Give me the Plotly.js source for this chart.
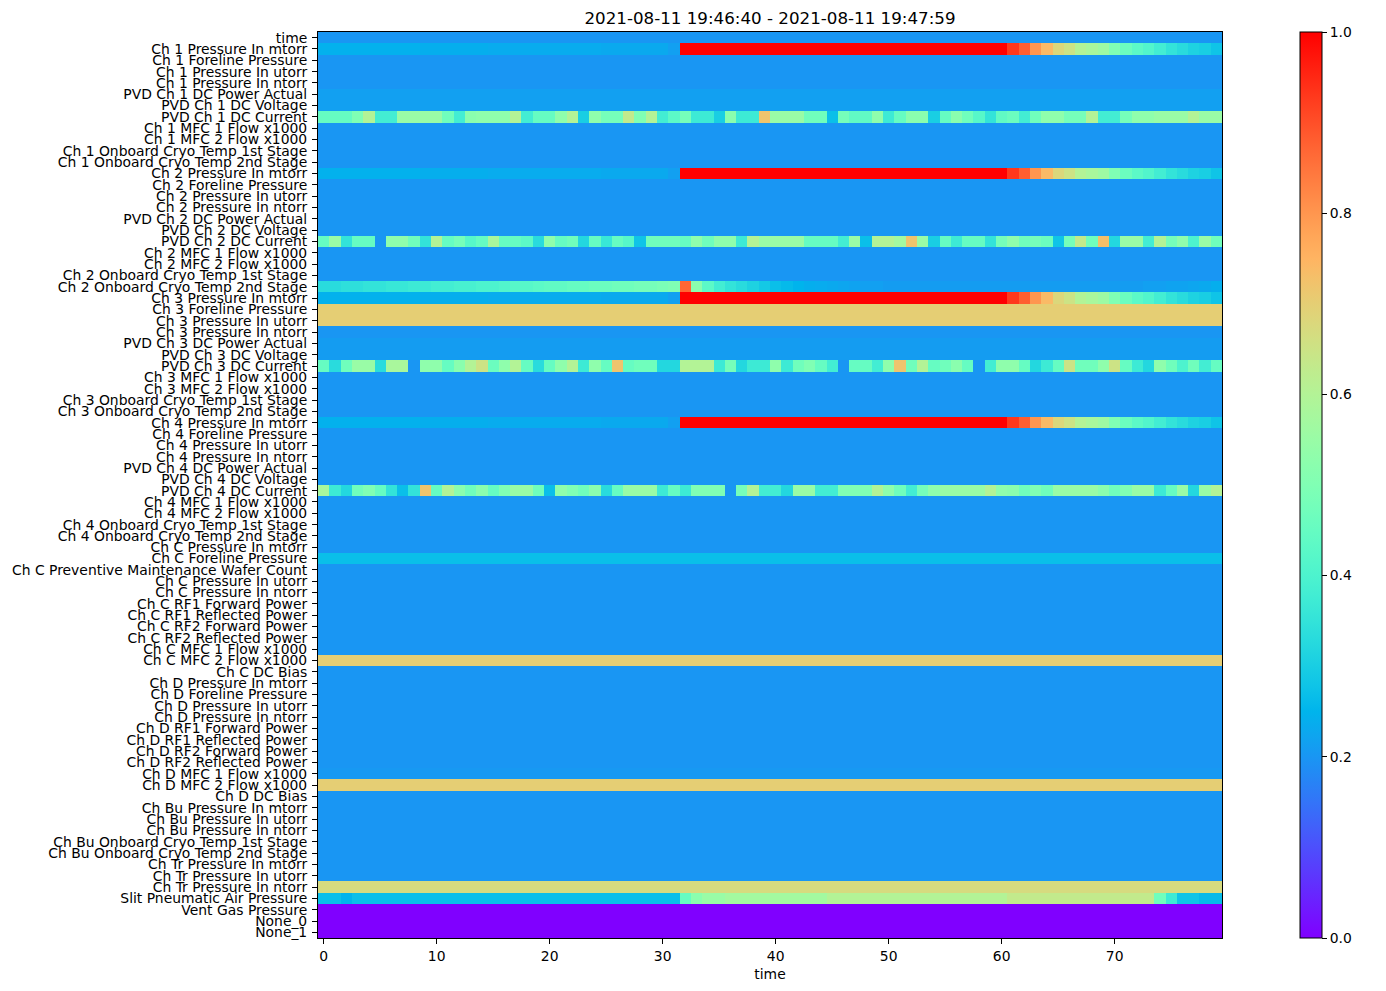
<!DOCTYPE html>
<html><head><meta charset="utf-8">
<script src="https://cdn.plot.ly/plotly-3.0.1.min.js"></script>
<style>html,body{margin:0;padding:0;background:#fff}#chart{width:1386px;height:991px}</style>
</head><body><div id="chart"></div>
<script>
const rowLabels = ["time","Ch 1 Pressure In mtorr","Ch 1 Foreline Pressure","Ch 1 Pressure In utorr","Ch 1 Pressure In ntorr","PVD Ch 1 DC Power Actual","PVD Ch 1 DC Voltage","PVD Ch 1 DC Current","Ch 1 MFC 1 Flow x1000","Ch 1 MFC 2 Flow x1000","Ch 1 Onboard Cryo Temp 1st Stage","Ch 1 Onboard Cryo Temp 2nd Stage","Ch 2 Pressure In mtorr","Ch 2 Foreline Pressure","Ch 2 Pressure In utorr","Ch 2 Pressure In ntorr","PVD Ch 2 DC Power Actual","PVD Ch 2 DC Voltage","PVD Ch 2 DC Current","Ch 2 MFC 1 Flow x1000","Ch 2 MFC 2 Flow x1000","Ch 2 Onboard Cryo Temp 1st Stage","Ch 2 Onboard Cryo Temp 2nd Stage","Ch 3 Pressure In mtorr","Ch 3 Foreline Pressure","Ch 3 Pressure In utorr","Ch 3 Pressure In ntorr","PVD Ch 3 DC Power Actual","PVD Ch 3 DC Voltage","PVD Ch 3 DC Current","Ch 3 MFC 1 Flow x1000","Ch 3 MFC 2 Flow x1000","Ch 3 Onboard Cryo Temp 1st Stage","Ch 3 Onboard Cryo Temp 2nd Stage","Ch 4 Pressure In mtorr","Ch 4 Foreline Pressure","Ch 4 Pressure In utorr","Ch 4 Pressure In ntorr","PVD Ch 4 DC Power Actual","PVD Ch 4 DC Voltage","PVD Ch 4 DC Current","Ch 4 MFC 1 Flow x1000","Ch 4 MFC 2 Flow x1000","Ch 4 Onboard Cryo Temp 1st Stage","Ch 4 Onboard Cryo Temp 2nd Stage","Ch C Pressure In mtorr","Ch C Foreline Pressure","Ch C Preventive Maintenance Wafer Count","Ch C Pressure In utorr","Ch C Pressure In ntorr","Ch C RF1 Forward Power","Ch C RF1 Reflected Power","Ch C RF2 Forward Power","Ch C RF2 Reflected Power","Ch C MFC 1 Flow x1000","Ch C MFC 2 Flow x1000","Ch C DC Bias","Ch D Pressure In mtorr","Ch D Foreline Pressure","Ch D Pressure In utorr","Ch D Pressure In ntorr","Ch D RF1 Forward Power","Ch D RF1 Reflected Power","Ch D RF2 Forward Power","Ch D RF2 Reflected Power","Ch D MFC 1 Flow x1000","Ch D MFC 2 Flow x1000","Ch D DC Bias","Ch Bu Pressure In mtorr","Ch Bu Pressure In utorr","Ch Bu Pressure In ntorr","Ch Bu Onboard Cryo Temp 1st Stage","Ch Bu Onboard Cryo Temp 2nd Stage","Ch Tr Pressure In mtorr","Ch Tr Pressure In utorr","Ch Tr Pressure In ntorr","Slit Pneumatic Air Pressure","Vent Gas Pressure","None_0","None_1"];

const timeIndex = [0,1,2,3,4,5,6,7,8,9,10,11,12,13,14,15,16,17,18,19,20,21,22,23,24,25,26,27,28,29,30,31,32,33,34,35,36,37,38,39,40,41,42,43,44,45,46,47,48,49,50,51,52,53,54,55,56,57,58,59,60,61,62,63,64,65,66,67,68,69,70,71,72,73,74,75,76,77,78,79];

const xTickValues = [0,10,20,30,40,50,60,70];
const colorbarTicks = [0,0.2,0.4,0.6,0.8,1.0];
const colorbarTickText = ["0.0","0.2","0.4","0.6","0.8","1.0"];

// constant level of each row (used where no per-time series is listed)
const rowLevel = [0.2,0.2,0.2,0.2,0.2,0.215,0.215,0.2,0.2,0.2,0.2,0.2,0.2,0.2,0.2,0.2,0.2,0.2,0.2,0.2,0.2,0.2,0.2,0.2,0.7,0.7,0.2,0.21,0.21,0.2,0.2,0.2,0.2,0.2,0.2,0.2,0.2,0.2,0.2,0.2,0.2,0.2,0.2,0.2,0.2,0.2,0.27,0.2,0.2,0.2,0.2,0.2,0.2,0.2,0.2,0.7,0.2,0.2,0.2,0.2,0.2,0.2,0.2,0.2,0.2,0.205,0.7,0.2,0.2,0.2,0.2,0.2,0.2,0.2,0.2,0.67,0.2,0,0,0];

const ch1PressureMtorr = [0.245,0.245,0.245,0.245,0.245,0.245,0.245,0.245,0.245,0.24,0.24,0.24,0.24,0.24,0.24,0.235,0.235,0.235,0.235,0.235,0.235,0.235,0.235,0.235,0.235,0.23,0.23,0.23,0.23,0.23,0.23,0.215,1,1,1,1,1,1,1,1,1,1,1,1,1,1,1,1,1,1,1,1,1,1,1,1,1,1,1,1,1,0.93,0.88,0.8,0.74,0.68,0.65,0.6,0.58,0.56,0.5,0.46,0.43,0.41,0.38,0.35,0.33,0.31,0.3,0.28];
const ch2PressureMtorr = [0.245,0.245,0.245,0.245,0.245,0.245,0.245,0.245,0.245,0.24,0.24,0.24,0.24,0.24,0.24,0.235,0.235,0.235,0.235,0.235,0.235,0.235,0.235,0.235,0.235,0.23,0.23,0.23,0.23,0.23,0.23,0.215,1,1,1,1,1,1,1,1,1,1,1,1,1,1,1,1,1,1,1,1,1,1,1,1,1,1,1,1,1,0.93,0.88,0.8,0.74,0.68,0.65,0.6,0.58,0.56,0.5,0.46,0.43,0.41,0.38,0.35,0.33,0.31,0.3,0.28];
const ch3PressureMtorr = [0.245,0.245,0.245,0.245,0.245,0.245,0.245,0.245,0.245,0.24,0.24,0.24,0.24,0.24,0.24,0.235,0.235,0.235,0.235,0.235,0.235,0.235,0.235,0.235,0.235,0.23,0.23,0.23,0.23,0.23,0.23,0.215,1,1,1,1,1,1,1,1,1,1,1,1,1,1,1,1,1,1,1,1,1,1,1,1,1,1,1,1,1,0.93,0.88,0.8,0.74,0.68,0.65,0.6,0.58,0.56,0.5,0.46,0.43,0.41,0.38,0.35,0.33,0.31,0.3,0.28];
const ch4PressureMtorr = [0.245,0.245,0.245,0.245,0.245,0.245,0.245,0.245,0.245,0.24,0.24,0.24,0.24,0.24,0.24,0.235,0.235,0.235,0.235,0.235,0.235,0.235,0.235,0.235,0.235,0.23,0.23,0.23,0.23,0.23,0.23,0.215,1,1,1,1,1,1,1,1,1,1,1,1,1,1,1,1,1,1,1,1,1,1,1,1,1,1,1,1,1,0.93,0.88,0.8,0.74,0.68,0.65,0.6,0.58,0.56,0.5,0.46,0.43,0.41,0.38,0.35,0.33,0.31,0.3,0.28];

const pvdCh1Current = [0.45,0.45,0.45,0.5,0.6,0.38,0.38,0.55,0.55,0.55,0.55,0.47,0.38,0.52,0.53,0.53,0.53,0.6,0.38,0.45,0.45,0.53,0.6,0.3,0.53,0.48,0.48,0.63,0.5,0.6,0.38,0.43,0.48,0.37,0.37,0.3,0.52,0.37,0.37,0.72,0.55,0.55,0.55,0.47,0.47,0.27,0.48,0.44,0.44,0.53,0.37,0.45,0.52,0.52,0.3,0.45,0.52,0.47,0.42,0.35,0.44,0.46,0.38,0.47,0.53,0.53,0.48,0.48,0.6,0.38,0.38,0.48,0.53,0.53,0.55,0.55,0.55,0.6,0.55,0.55];
const pvdCh2Current = [0.45,0.55,0.35,0.45,0.45,0.2,0.53,0.53,0.47,0.35,0.6,0.45,0.48,0.42,0.45,0.58,0.45,0.45,0.43,0.33,0.53,0.45,0.47,0.32,0.45,0.36,0.45,0.42,0.28,0.47,0.47,0.47,0.45,0.53,0.47,0.53,0.53,0.37,0.6,0.55,0.55,0.55,0.55,0.45,0.45,0.45,0.38,0.55,0.27,0.6,0.6,0.57,0.72,0.55,0.3,0.45,0.37,0.45,0.45,0.35,0.48,0.53,0.47,0.48,0.46,0.28,0.48,0.63,0.47,0.73,0.32,0.55,0.55,0.38,0.6,0.48,0.53,0.4,0.55,0.47];
const pvdCh3Current = [0.45,0.33,0.47,0.55,0.55,0.33,0.58,0.58,0.2,0.53,0.53,0.45,0.52,0.6,0.65,0.46,0.53,0.6,0.45,0.33,0.45,0.53,0.6,0.37,0.53,0.45,0.72,0.45,0.47,0.47,0.32,0.32,0.6,0.6,0.6,0.37,0.48,0.32,0.37,0.37,0.53,0.37,0.47,0.5,0.45,0.38,0.2,0.45,0.45,0.38,0.53,0.72,0.47,0.6,0.45,0.47,0.52,0.45,0.2,0.38,0.53,0.53,0.45,0.32,0.37,0.45,0.65,0.47,0.47,0.53,0.65,0.45,0.37,0.32,0.53,0.47,0.4,0.47,0.38,0.45];
const pvdCh4Current = [0.58,0.37,0.32,0.47,0.5,0.45,0.35,0.27,0.35,0.72,0.45,0.6,0.52,0.47,0.52,0.45,0.5,0.55,0.55,0.47,0.27,0.53,0.5,0.47,0.52,0.33,0.45,0.55,0.55,0.55,0.37,0.45,0.37,0.5,0.5,0.5,0.2,0.48,0.6,0.38,0.38,0.32,0.55,0.55,0.38,0.38,0.5,0.5,0.5,0.6,0.53,0.47,0.38,0.48,0.53,0.55,0.55,0.55,0.55,0.6,0.53,0.52,0.47,0.5,0.47,0.55,0.55,0.55,0.55,0.52,0.47,0.5,0.55,0.55,0.37,0.45,0.55,0.32,0.55,0.6];

const ch2CryoTemp2nd = [0.33,0.33,0.34,0.34,0.35,0.35,0.36,0.36,0.37,0.37,0.38,0.38,0.39,0.39,0.4,0.4,0.41,0.42,0.42,0.43,0.44,0.44,0.45,0.45,0.46,0.46,0.47,0.47,0.48,0.48,0.49,0.5,0.87,0.52,0.43,0.38,0.35,0.33,0.31,0.29,0.27,0.26,0.25,0.24,0.235,0.23,0.225,0.22,0.215,0.215,0.21,0.21,0.21,0.21,0.21,0.21,0.21,0.21,0.21,0.21,0.21,0.21,0.21,0.21,0.21,0.21,0.21,0.21,0.21,0.21,0.21,0.21,0.21,0.215,0.215,0.22,0.22,0.225,0.23,0.24];

const slitAirPressure = [0.27,0.27,0.25,0.27,0.27,0.27,0.27,0.27,0.27,0.27,0.27,0.27,0.27,0.27,0.27,0.27,0.27,0.27,0.27,0.27,0.27,0.27,0.27,0.27,0.27,0.27,0.27,0.27,0.27,0.27,0.27,0.27,0.45,0.52,0.55,0.55,0.57,0.57,0.57,0.57,0.57,0.57,0.57,0.57,0.57,0.6,0.6,0.6,0.6,0.6,0.6,0.6,0.6,0.6,0.6,0.6,0.6,0.6,0.6,0.6,0.6,0.63,0.63,0.63,0.63,0.63,0.63,0.63,0.63,0.63,0.63,0.63,0.63,0.63,0.47,0.37,0.28,0.28,0.26,0.26];

const seriesByRow = {
  1: ch1PressureMtorr, 7: pvdCh1Current, 12: ch2PressureMtorr, 18: pvdCh2Current,
  22: ch2CryoTemp2nd, 23: ch3PressureMtorr, 29: pvdCh3Current, 34: ch4PressureMtorr,
  40: pvdCh4Current, 76: slitAirPressure
};

const z = rowLabels.map((lab, i) => seriesByRow[i] ? seriesByRow[i] : timeIndex.map(() => rowLevel[i]));
const rowIndex = rowLabels.map((lab, i) => i);

// matplotlib "rainbow" colormap
const cs = [];
for (let k = 0; k <= 40; k++) {
  const t = k / 40;
  const r = Math.min(1, Math.abs(2 * t - 0.5));
  const g = Math.sin(Math.PI * t);
  const b = Math.cos(Math.PI * t / 2);
  cs.push([t, `rgb(${Math.round(r*255)},${Math.round(Math.max(0,g)*255)},${Math.round(Math.max(0,b)*255)})`]);
}

const FONT = "DejaVu Sans, Liberation Sans, sans-serif";
const trace = {
  type: 'heatmap', x: timeIndex, y: rowIndex, z: z,
  colorscale: cs, zmin: 0, zmax: 1, zsmooth: false, hoverongaps: false,
  colorbar: {
    x: 1.0863, xanchor: 'left', xref: 'paper', y: 0.5, yanchor: 'middle',
    len: 1, lenmode: 'fraction', thickness: 22, thicknessmode: 'pixels',
    xpad: 0, ypad: 0, outlinewidth: 1, outlinecolor: '#000',
    ticks: 'outside', ticklen: 5, tickwidth: 1, tickcolor: '#000',
    tickvals: colorbarTicks, ticktext: colorbarTickText,
    tickfont: {family: FONT, size: 13.9, color: '#000'}
  }
};

const layout = {
  width: 1386, height: 991,
  margin: {l: 318, r: 164, t: 32, b: 53, pad: 0},
  paper_bgcolor: '#fff', plot_bgcolor: '#fff',
  font: {family: FONT, size: 13.9, color: '#000'},
  title: {text: '2021-08-11 19:46:40 - 2021-08-11 19:47:59', x: 0.5, xref: 'paper', xanchor: 'center',
          y: 1 - 18/991, yref: 'container', yanchor: 'middle', font: {family: FONT, size: 16.7, color: '#000'}},
  xaxis: {range: [-0.5, 79.5], tickvals: xTickValues, ticks: 'outside', ticklen: 5, tickwidth: 1, tickcolor: '#000',
          showline: true, mirror: true, linecolor: '#000', linewidth: 1, showgrid: false, zeroline: false,
          tickfont: {family: FONT, size: 13.9, color: '#000'},
          title: {text: 'time', standoff: 6, font: {family: FONT, size: 13.9, color: '#000'}}},
  yaxis: {range: [79.5, -0.5], tickvals: rowIndex, ticktext: rowLabels, ticks: 'outside', ticklen: 5, tickwidth: 1, tickcolor: '#000',
          ticklabelstandoff: 2,
          showline: true, mirror: true, linecolor: '#000', linewidth: 1, showgrid: false, zeroline: false,
          tickfont: {family: FONT, size: 13.9, color: '#000'}}
};

Plotly.newPlot('chart', [trace], layout, {displayModeBar: false, staticPlot: true});
</script>
</body></html>
